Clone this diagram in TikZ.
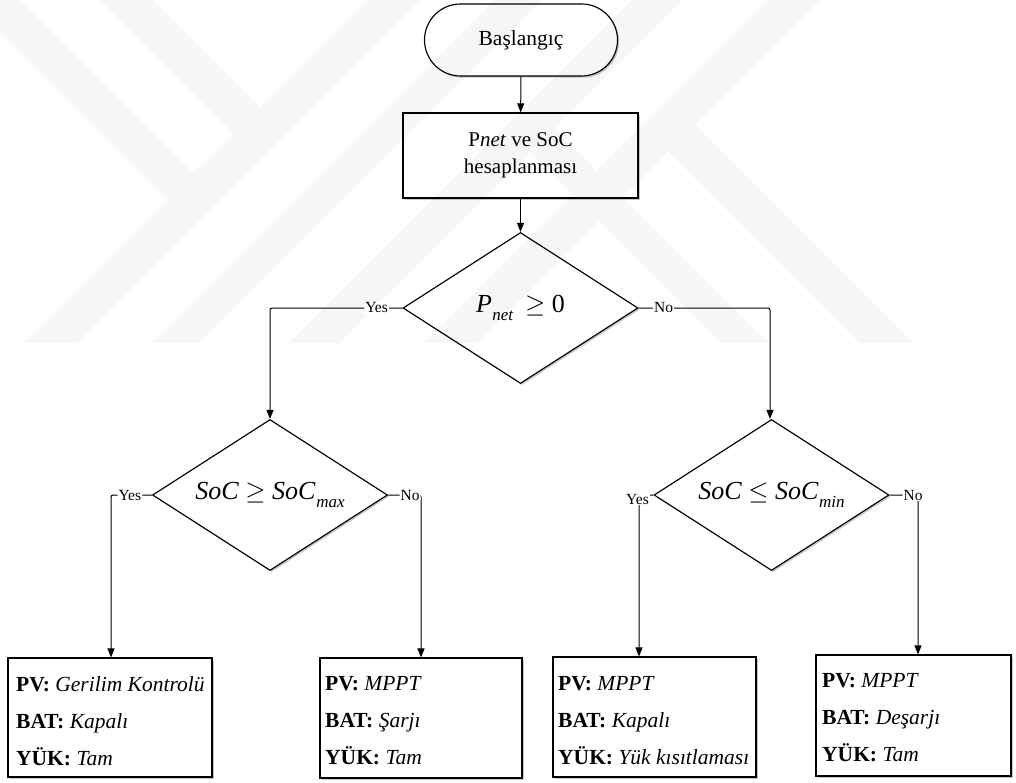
\RequirePackage{fix-cm}
\documentclass[tikz,border=0pt]{standalone}
\usepackage{fontspec}
\setmainfont{Liberation Serif}
\usetikzlibrary{shapes.geometric,shadows,arrows.meta}

\tikzset{
  base/.style={draw=black, line width=1.15pt, fill=white,
    drop shadow={shadow xshift=1.6pt, shadow yshift=-1.6pt, opacity=0.22, fill=black}},
  terminal/.style={base, rectangle, rounded corners=36pt, minimum width=193pt,
    minimum height=72pt, inner sep=0pt, font=\fontsize{21.5}{27}\selectfont},
  process/.style={base, rectangle, minimum width=235pt, minimum height=85pt,
    inner sep=0pt, align=center, font=\fontsize{21}{27}\selectfont},
  decision/.style={base, diamond, aspect=1.55, minimum width=235pt,
    minimum height=151pt, inner sep=0pt, font=\fontsize{26}{30}\selectfont},
  outbox/.style={base, rectangle, inner sep=0pt},
  outtext/.style={anchor=west, align=left, inner sep=0pt,
    font=\fontsize{21.5}{37}\selectfont},
  flow/.style={line width=1pt, rounded corners=2pt,
    -{Triangle[length=9pt,width=7pt]}},
  lbl/.style={fill=white, inner sep=1pt, font=\fontsize{15.5}{18}\selectfont},
  wmband/.style={fill=gray!7, draw=none}
}
% italic variable with an italic subscript
\newcommand{\varsub}[2]{\textit{#1}\kern0.5pt\raisebox{-0.28em}{\fontsize{17}{20}\selectfont\textit{#2}}}

\begin{document}
\begin{tikzpicture}[x=1pt, y=-1pt]
\useasboundingbox (0,0) rectangle (1016,783);

% main chain
\node[terminal] (start) at (521,40) {Başlangıç};
\node[process] (calc) at (520.5,155.5) {P\textit{net} ve SoC\\hesaplanması};
\node[decision] (d1) at (520.5,308) {\varsub{P}{net}\hspace{0.45em}$\geq$ 0};
\node[decision] (d2) at (270,495) {\textit{SoC} $\geq$ \varsub{SoC}{max}};
\node[decision] (d3) at (771.5,495) {\textit{SoC} $\leq$ \varsub{SoC}{min}};

% operating modes
\node[outbox, minimum width=204pt, minimum height=119pt] (m1) at (110,717.5) {};
\node[outbox, minimum width=202pt, minimum height=120pt] (m2) at (421,718) {};
\node[outbox, minimum width=203pt, minimum height=120pt] (m3) at (654.5,717) {};
\node[outbox, minimum width=195pt, minimum height=121pt] (m4) at (913.5,715.5) {};

\node[outtext] (t1) at (16,721)
  {\textbf{PV:} \textit{Gerilim Kontrolü}\\\textbf{BAT:} \textit{Kapalı}\\\textbf{YÜK:} \textit{Tam}};
\node[outtext] (t2) at (325,721)
  {\textbf{PV:} \textit{MPPT}\\\textbf{BAT:} \textit{Şarjı}\\\textbf{YÜK:} \textit{Tam}};
\node[outtext] (t3) at (558,721)
  {\textbf{PV:} \textit{MPPT}\\\textbf{BAT:} \textit{Kapalı}\\\textbf{YÜK:} \textit{Yük kısıtlaması}};
\node[outtext] (t4) at (822,718)
  {\textbf{PV:} \textit{MPPT}\\\textbf{BAT:} \textit{Deşarjı}\\\textbf{YÜK:} \textit{Tam}};

% faint background emblem
\begin{scope}[blend mode=multiply]
  \clip (0,0) rectangle (1016,342);
  \fill[wmband]
    (387,-20) -- (440,-20) -- (58,362) -- (5,362) -- cycle
    (-53,-20) -- (0,-20) -- (193.5,173.5) -- (167,200) -- cycle
    (80,-20) -- (133,-20) -- (260,107) -- (233.5,133.5) -- cycle
    (515,-20) -- (562,-20) -- (180,362) -- (133,362) -- cycle
    (652,-20) -- (702,-20) -- (320,362) -- (270,362) -- cycle
    (787,-20) -- (840,-20) -- (458,362) -- (405,362) -- cycle
    (668.5,151.5) -- (695,125) -- (932,362) -- (879,362) -- cycle
    (530,152) -- (553.5,128.5) -- (787,362) -- (740,362) -- cycle;
\end{scope}

% bends of the branches
\coordinate (k11) at (270,308);
\coordinate (k12) at (770,308);
\coordinate (k21) at (111,495);
\coordinate (k22) at (421,495);
\coordinate (k31) at (639,495);
\coordinate (k32) at (918,495);

% connectors
\draw[flow] (start) -- (calc);
\draw[flow] (calc) -- (d1);
\draw[flow] (d1.west) -- node[lbl, pos=0.195] {Yes} (k11) -- (d2.north);
\draw[flow] (d1.east) -- node[lbl, pos=0.19] {No} (k12) -- (k12 |- d3.north);
\draw[flow] (d2.west) -- node[lbl, pos=0.54] {Yes} (k21) -- (k21 |- m1.north);
\draw[flow] (d2.east) -- node[lbl, pos=0.67] {No} (k22) -- (k22 |- m2.north);
\draw[flow] (d3.west) -- (k31) node[lbl, xshift=-1.5pt, yshift=-4pt] {Yes} -- (k31 |- m3.north);
\draw[flow] (d3.east) -- node[lbl, pos=0.83] {No} (k32) -- (k32 |- m4.north);
\end{tikzpicture}
\end{document}
